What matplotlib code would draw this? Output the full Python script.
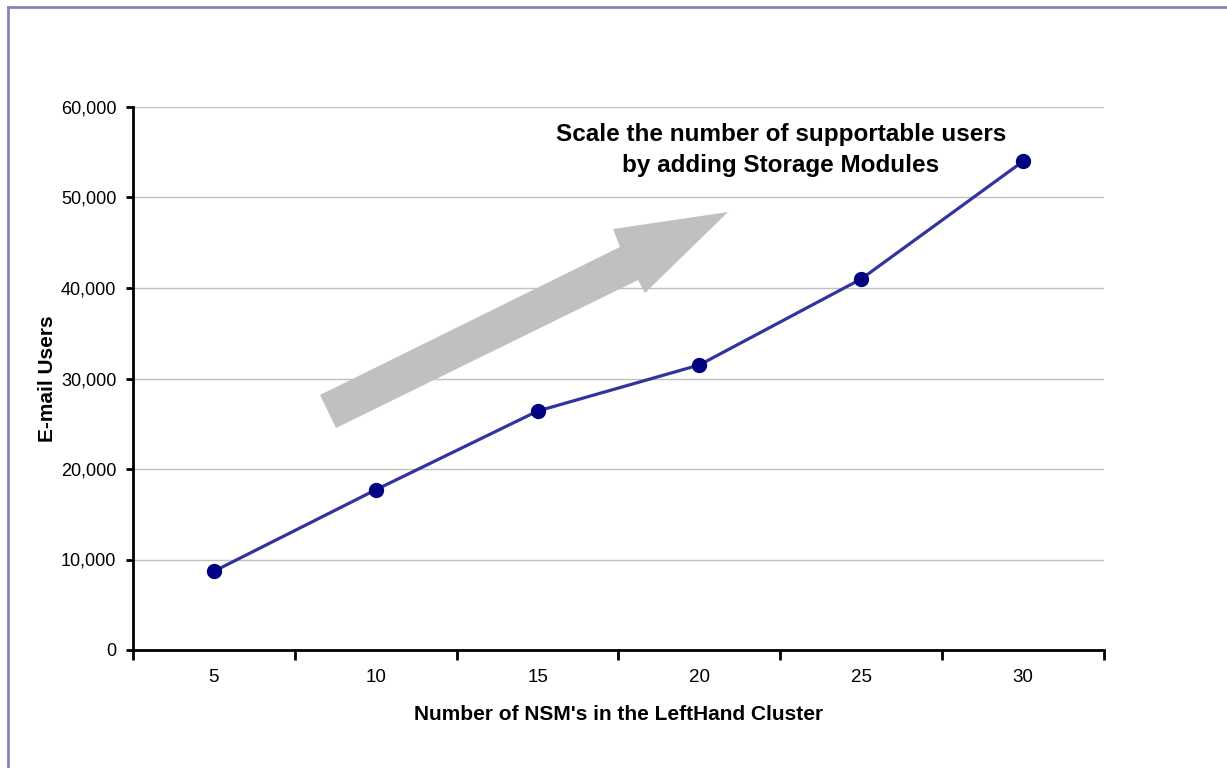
import matplotlib
matplotlib.use("Agg")
import matplotlib.pyplot as plt
from matplotlib.patches import Polygon
from matplotlib.lines import Line2D
from matplotlib.ticker import FuncFormatter, FixedLocator

plt.rcParams['font.family'] = ['Liberation Sans', 'DejaVu Sans']

# Cluster sizes and the e-mail users they support
nsm_counts = ["5", "10", "15", "20", "25", "30"]
email_users = [8700, 17700, 26400, 31500, 41000, 54000]
y_ticks = [0, 10000, 20000, 30000, 40000, 50000, 60000]

fig = plt.figure(figsize=(12.27, 7.68), dpi=100)
fig.patch.set_facecolor("white")

# Outer frame along the top and left edges
fig.add_artist(Line2D([8 / 1227, 8 / 1227], [0, 1 - 7 / 768], transform=fig.transFigure,
                      color="#8585b5", lw=2))
fig.add_artist(Line2D([8 / 1227, 1], [1 - 7 / 768, 1 - 7 / 768], transform=fig.transFigure,
                      color="#8585b5", lw=2))

ax = fig.add_axes([133 / 1227, 1 - 650 / 768, 971 / 1227, 543 / 768])
ax.set_facecolor("white")

x = list(range(len(nsm_counts)))

# Big grey arrow showing the upward trend
arrow_pts = [(0.1926, 0.4696), (0.5015, 0.7422), (0.4943, 0.7753), (0.6128, 0.8066),
             (0.5273, 0.6575), (0.5201, 0.6814), (0.2091, 0.4088)]
ax.add_patch(Polygon(arrow_pts, closed=True, transform=ax.transAxes,
                     facecolor="#c0c0c0", edgecolor="none", zorder=1))

ax.plot(x, email_users, color="#3333a0", lw=2.3, marker="o", markersize=10,
        markerfacecolor="#000080", markeredgecolor="#000080", zorder=3)

ax.set_xlim(-0.5, len(nsm_counts) - 0.5)
ax.set_ylim(0, 60000)

ax.yaxis.set_major_locator(FixedLocator(y_ticks))
ax.yaxis.set_major_formatter(FuncFormatter(lambda v, p: f"{int(v):,}"))
ax.grid(axis="y", color="#c0c0c0", lw=1, zorder=0)

ax.set_xticks(x)
ax.set_xticklabels(nsm_counts)
ax.set_xticks([i - 0.5 for i in range(len(nsm_counts) + 1)], minor=True)
ax.tick_params(axis="x", which="major", length=0, pad=14, labelsize=13.5)
ax.tick_params(axis="x", which="minor", length=7, width=2, direction="out", color="black")
ax.tick_params(axis="y", which="major", length=5, width=2, direction="out", labelsize=13, pad=7)

for side in ("top", "right"):
    ax.spines[side].set_visible(False)
for side in ("left", "bottom"):
    ax.spines[side].set_linewidth(2)
    ax.spines[side].set_color("black")

ax.set_xlabel("Number of NSM's in the LeftHand Cluster", fontsize=15, fontweight="bold", labelpad=13)
ax.set_ylabel("E-mail Users", fontsize=15, fontweight="bold", labelpad=3)

ax.text(0.667, 0.921, "Scale the number of supportable users\nby adding Storage Modules",
        transform=ax.transAxes, ha="center", va="center", fontsize=17.5, fontweight="bold",
        linespacing=1.45)

fig.savefig("out.png", dpi=100, facecolor="white")
